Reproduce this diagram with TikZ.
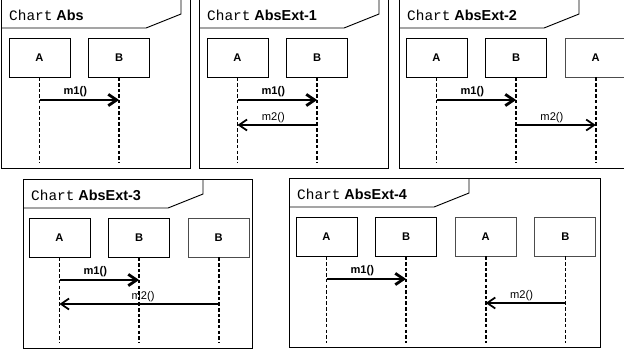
\documentclass[tikz,border=0pt]{standalone}
\usepackage{fontspec}
\setmainfont{Liberation Sans}
\newfontfamily\chartmono{Liberation Mono}
\usetikzlibrary{arrows.meta,positioning}

\begin{document}
\begin{tikzpicture}[
  x=0.03cm, y=-0.03cm, % one unit is one pixel of the sheet, y runs downwards
  node distance=0.53cm,
  frame/.style={draw=black, line width=0.8pt},
  title/.style={anchor=west, inner sep=0pt, font=\fontsize{12.3}{14}\selectfont},
  life/.style={draw=black, line width=0.8pt, fill=white, minimum width=1.83cm,
    minimum height=1.17cm, inner sep=0pt, font=\bfseries\fontsize{9.5}{11}\selectfont},
  extlife/.style={life, draw=black!70},
  lifeline/.style={line width=1.4pt, dash pattern=on 3pt off 1.8pt},
  msgmain/.style={line width=2.4pt, -{Straight Barb[length=2.5mm, width=3.4mm]}},
  msgext/.style={line width=1.5pt, -{Straight Barb[length=2.4mm, width=3.3mm]}},
  msglabel/.style={midway, above, inner sep=1.2pt, xshift=-0.12cm,
    font=\fontsize{9.5}{11}\selectfont},
  boldlabel/.style={msglabel, font=\bfseries\fontsize{9.5}{11}\selectfont}
]
\useasboundingbox (0,0) rectangle (624,354);
\clip (0,0) rectangle (624,354);

% --- Chart Abs ---
\begin{scope}[shift={(1,-1)}]
  \draw[frame] (0,0) rectangle (189,169);
  \draw[frame] (0,29) -- (145,29) -- (180,15) -- (180,0);
  \node[title] (t1) at (8,16) {{\chartmono Chart} \textbf{Abs}};
  \node[life] (p1a) at (38.5,58.5) {A};
  \node[life, right=of p1a] (p1b) {B};
  \coordinate (p1end) at (0,164);
  \coordinate (p1m1) at (0,101);
  \draw[lifeline] (p1a.south) -- (p1a.south |- p1end);
  \draw[lifeline] (p1b.south) -- (p1b.south |- p1end);
  \draw[msgmain] (p1a |- p1m1) -- (p1b |- p1m1) node[boldlabel] {m1()};
\end{scope}

% --- Chart AbsExt-1 ---
\begin{scope}[shift={(199,-1)}]
  \draw[frame] (0,0) rectangle (189,169);
  \draw[frame] (0,29) -- (145,29) -- (180,15) -- (180,0);
  \node[title] (t2) at (8,16) {{\chartmono Chart} \textbf{AbsExt-1}};
  \node[life] (p2a) at (38.5,58.5) {A};
  \node[life, right=of p2a] (p2b) {B};
  \coordinate (p2end) at (0,164);
  \coordinate (p2m1) at (0,101);
  \coordinate (p2m2) at (0,126);
  \draw[lifeline] (p2a.south) -- (p2a.south |- p2end);
  \draw[lifeline] (p2b.south) -- (p2b.south |- p2end);
  \draw[msgmain] (p2a |- p2m1) -- (p2b |- p2m1) node[boldlabel] {m1()};
  \draw[msgext] (p2b |- p2m2) -- (p2a |- p2m2) node[msglabel] {m2()};
\end{scope}

% --- Chart AbsExt-2 ---
\begin{scope}[shift={(399,-1)}]
  \draw[frame] (0,0) rectangle (250,169);
  \draw[frame] (0,29) -- (145,29) -- (180,15) -- (180,0);
  \node[title] (t3) at (8,16) {{\chartmono Chart} \textbf{AbsExt-2}};
  \node[life] (p3a) at (37.5,58.5) {A};
  \node[life, right=of p3a] (p3b) {B};
  \node[extlife, right=of p3b] (p3c) {A};
  \coordinate (p3end) at (0,164);
  \coordinate (p3m1) at (0,101);
  \coordinate (p3m2) at (0,126);
  \draw[lifeline] (p3a.south) -- (p3a.south |- p3end);
  \draw[lifeline] (p3b.south) -- (p3b.south |- p3end);
  \draw[lifeline] (p3c.south) -- (p3c.south |- p3end);
  \draw[msgmain] (p3a |- p3m1) -- (p3b |- p3m1) node[boldlabel] {m1()};
  \draw[msgext] (p3b |- p3m2) -- (p3c |- p3m2) node[msglabel] {m2()};
\end{scope}

% --- Chart AbsExt-3 ---
\begin{scope}[shift={(23,179)}]
  \draw[frame] (0,0) rectangle (229,169);
  \draw[frame] (0,29) -- (145,29) -- (180,15) -- (180,0);
  \node[title] (t4) at (8,16) {{\chartmono Chart} \textbf{AbsExt-3}};
  \node[life] (p4a) at (36.5,58.5) {A};
  \node[life, right=of p4a] (p4b) {B};
  \node[extlife, right=of p4b] (p4c) {B};
  \coordinate (p4end) at (0,164);
  \coordinate (p4m1) at (0,101);
  \coordinate (p4m2) at (0,125);
  \draw[lifeline] (p4a.south) -- (p4a.south |- p4end);
  \draw[lifeline] (p4b.south) -- (p4b.south |- p4end);
  \draw[lifeline] (p4c.south) -- (p4c.south |- p4end);
  \draw[msgmain] (p4a |- p4m1) -- (p4b |- p4m1) node[boldlabel] {m1()};
  \draw[msgext] (p4c |- p4m2) -- (p4a |- p4m2) node[msglabel, xshift=0.24cm] {m2()};
\end{scope}

% --- Chart AbsExt-4 ---
\begin{scope}[shift={(289,178)}]
  \draw[frame] (0,0) rectangle (311,169);
  \draw[frame] (0,29) -- (145,29) -- (180,15) -- (180,0);
  \node[title] (t5) at (8,16) {{\chartmono Chart} \textbf{AbsExt-4}};
  \node[life] (p5a) at (37.5,58.5) {A};
  \node[life, right=of p5a] (p5b) {B};
  \node[extlife, right=of p5b] (p5c) {A};
  \node[extlife, right=of p5c] (p5d) {B};
  \coordinate (p5end) at (0,165);
  \coordinate (p5m1) at (0,101);
  \coordinate (p5m2) at (0,125);
  \draw[lifeline] (p5a.south) -- (p5a.south |- p5end);
  \draw[lifeline] (p5b.south) -- (p5b.south |- p5end);
  \draw[lifeline] (p5c.south) -- (p5c.south |- p5end);
  \draw[lifeline] (p5d.south) -- (p5d.south |- p5end);
  \draw[msgmain] (p5a |- p5m1) -- (p5b |- p5m1) node[boldlabel] {m1()};
  \draw[msgext] (p5d |- p5m2) -- (p5c |- p5m2) node[msglabel] {m2()};
\end{scope}

\end{tikzpicture}
\end{document}
